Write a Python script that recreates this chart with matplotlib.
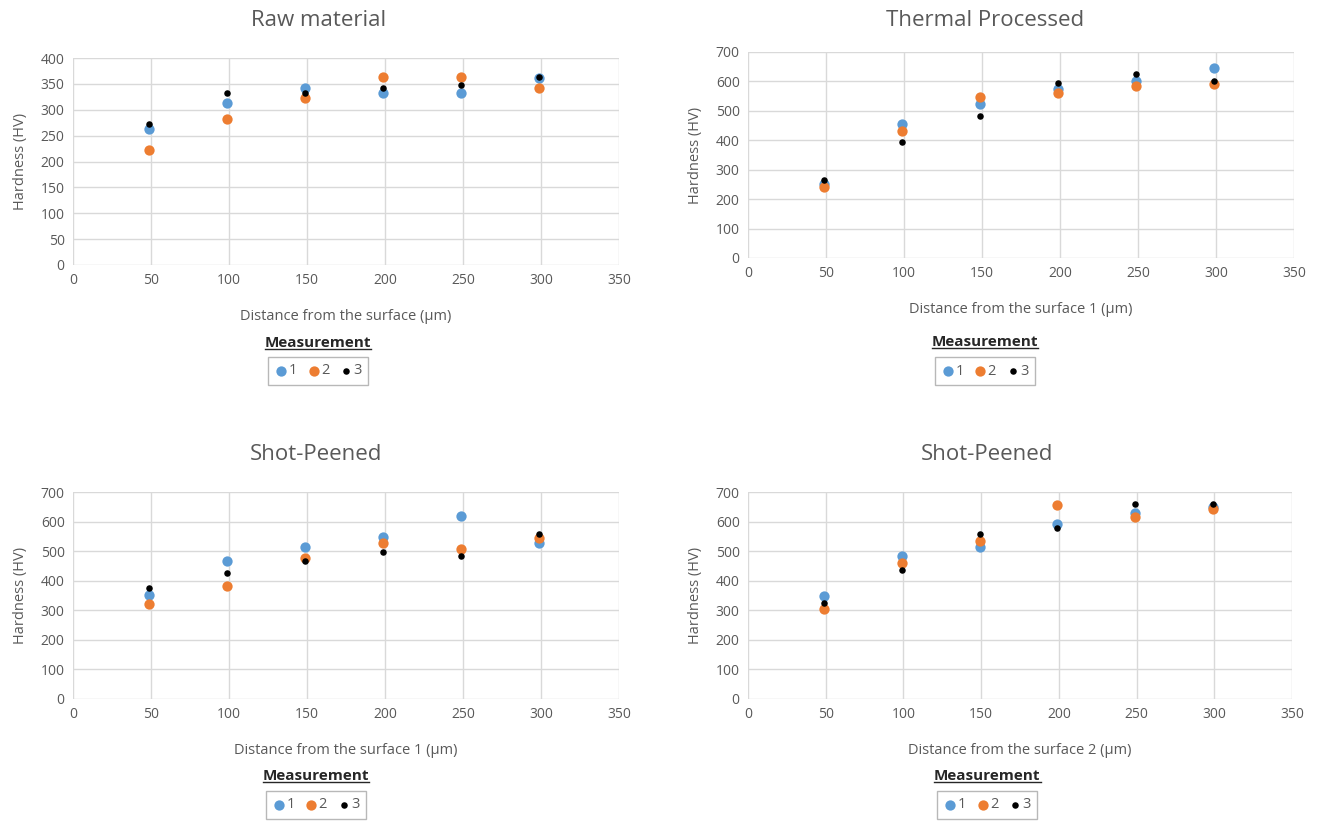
import matplotlib
matplotlib.use('Agg')
import matplotlib.pyplot as plt
from matplotlib.lines import Line2D

plt.rcParams['font.family'] = ['Open Sans', 'DejaVu Sans']

# depth of each indent (um)
DEPTH = [49, 99, 149, 199, 249, 299]

# hardness readings (HV), three measurements per condition
RAW_1 = [263, 313, 343, 333, 333, 362]
RAW_2 = [222, 283, 323, 363, 363, 343]
RAW_3 = [273, 333, 333, 343, 348, 363]

THERMAL_1 = [250, 456, 524, 573, 601, 645]
THERMAL_2 = [242, 431, 546, 560, 583, 590]
THERMAL_3 = [265, 393, 484, 593, 625, 601]

PEEN1_1 = [353, 467, 514, 547, 619, 528]
PEEN1_2 = [322, 383, 476, 529, 507, 543]
PEEN1_3 = [376, 427, 467, 497, 484, 558]

PEEN2_1 = [347, 485, 513, 591, 629, 650]
PEEN2_2 = [304, 459, 534, 657, 614, 643]
PEEN2_3 = [324, 436, 559, 578, 658, 658]

SERIES_LABELS = ['1', '2', '3']
COLORS = ['#5B9BD5', '#ED7D31', '#000000']
SIZES = [55, 55, 22]

TEXT_GRAY = '#595959'
GRID_GRAY = '#D9D9D9'

panels = [
    # title, xlabel, series, ymax, rect, title_x, title_pad, legend_y, legend_title_y
    ('Raw material', 'Distance from the surface (\u00b5m)',
     [RAW_1, RAW_2, RAW_3], 400, [0.0552, 0.6784, 0.413, 0.2512], 0.449, 23, -0.512, -0.377),
    ('Thermal Processed', 'Distance from the surface 1 (\u00b5m)',
     [THERMAL_1, THERMAL_2, THERMAL_3], 700, [0.5658, 0.6869, 0.413, 0.2500], 0.434, 19, -0.549, -0.408),
    ('Shot-Peened', 'Distance from the surface 1 (\u00b5m)',
     [PEEN1_1, PEEN1_2, PEEN1_3], 700, [0.0552, 0.1517, 0.413, 0.2512], 0.445, 23, -0.512, -0.372),
    ('Shot-Peened', 'Distance from the surface 2 (\u00b5m)',
     [PEEN2_1, PEEN2_2, PEEN2_3], 700, [0.5658, 0.1517, 0.4115, 0.2512], 0.440, 23, -0.512, -0.372),
]

fig = plt.figure(figsize=(13.22, 8.24), dpi=100)
fig.patch.set_facecolor('white')

legend_titles = []
for title, xlabel, series, ymax, rect, tx, tpad, ly, lty in panels:
    ax = fig.add_axes(rect)
    for vals, lab, col, s in zip(series, SERIES_LABELS, COLORS, SIZES):
        ax.scatter(DEPTH, vals, s=s, color=col, label=lab, linewidths=0, zorder=3)

    ax.set_xlim(0, 350)
    ax.set_ylim(0, ymax)
    ax.set_xticks(range(0, 351, 50))
    ax.set_yticks(range(0, ymax + 1, 50 if ymax == 400 else 100))
    ax.grid(True, color=GRID_GRAY, linewidth=1.0)
    ax.set_axisbelow(True)
    for sp in ax.spines.values():
        sp.set_visible(False)
    ax.tick_params(length=0, labelsize=10, colors=TEXT_GRAY, pad=6)

    ax.set_xlabel(xlabel, fontsize=10.5, color=TEXT_GRAY, labelpad=15)
    ax.set_ylabel('Hardness (HV)', fontsize=10.5, color=TEXT_GRAY, labelpad=9)
    ax.set_title(title, fontsize=16, color=TEXT_GRAY, x=tx, pad=tpad)

    leg = ax.legend(loc='center', bbox_to_anchor=(tx, ly), ncol=3, frameon=True,
                    fancybox=False, handletextpad=0.05, columnspacing=0.7,
                    handlelength=0.9, borderpad=0.45, fontsize=10.5,
                    markerscale=1.0)
    leg.get_frame().set_edgecolor('#A6A6A6')
    leg.get_frame().set_linewidth(1.0)
    for t in leg.get_texts():
        t.set_color(TEXT_GRAY)

    lt = ax.text(tx, lty, 'Measurement', transform=ax.transAxes, ha='center',
                 va='center', fontsize=11, fontweight='bold', color='#262626')
    legend_titles.append(lt)

# underline the legend headings
fig.canvas.draw()
renderer = fig.canvas.get_renderer()
inv = fig.transFigure.inverted()
for lt in legend_titles:
    bb = lt.get_window_extent(renderer)
    (x0, y0), (x1, y1) = inv.transform([(bb.x0, bb.y0), (bb.x1, bb.y1)])
    fig.add_artist(Line2D([x0, x1], [y0 + 0.001, y0 + 0.001], transform=fig.transFigure,
                          color='#262626', linewidth=1.0))

fig.savefig('out.png', dpi=100)
